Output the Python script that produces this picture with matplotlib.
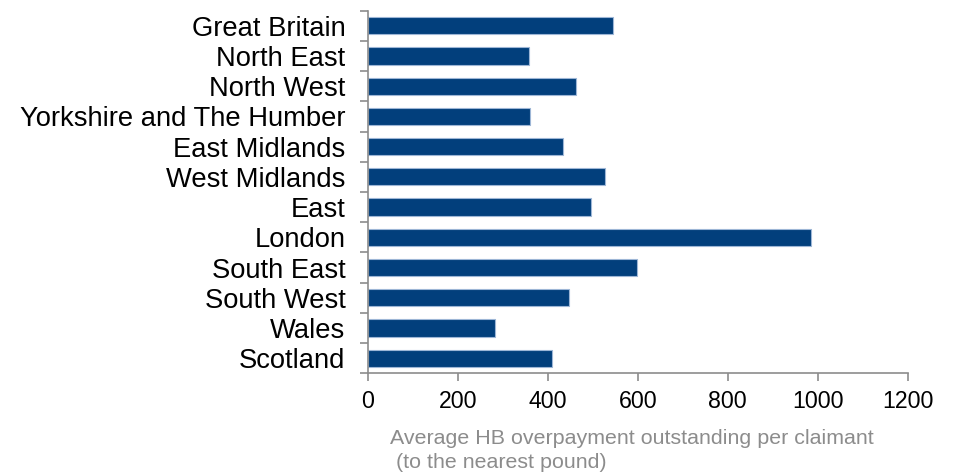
import matplotlib
matplotlib.use('Agg')
import matplotlib.pyplot as plt
import numpy as np

plt.rcParams['font.family'] = ['Liberation Sans', 'DejaVu Sans']

regioes = ['Great Britain', 'North East', 'North West', 'Yorkshire and The Humber',
           'East Midlands', 'West Midlands', 'East', 'London', 'South East',
           'South West', 'Wales', 'Scotland']
valores = [546, 358, 463, 361, 433, 527, 496, 986, 599, 448, 284, 409]
xticks = [0, 200, 400, 600, 800, 1000, 1200]

cinza = '#8c8c8c'
azul = '#023f7c'

fig = plt.figure(figsize=(9.55, 4.73), dpi=100)
ax = fig.add_axes([0.385, 0.2108, 0.5655, 0.7666])

pos = np.arange(len(regioes))
ax.barh(pos, valores, height=0.57, color=azul, edgecolor='#9db6d6', linewidth=0.8)

ax.set_ylim(len(regioes) - 0.5, -0.5)
ax.set_xlim(0, 1200)
ax.set_xticks(xticks)
ax.set_xticklabels([str(v) for v in xticks], fontsize=16.7)
ax.set_yticks(pos)
ax.set_yticklabels(regioes, fontsize=19.7)
ax.set_yticks(np.arange(-0.5, len(regioes), 1), minor=True)

ax.tick_params(axis='y', which='major', length=0, pad=16)
ax.tick_params(axis='y', which='minor', length=5.5, width=1.2, color=cinza)
ax.tick_params(axis='x', length=5.8, width=1.2, color=cinza, pad=6.5)

for lado in ['top', 'right']:
    ax.spines[lado].set_visible(False)
for lado in ['left', 'bottom']:
    ax.spines[lado].set_color(cinza)
    ax.spines[lado].set_linewidth(1.2)

fig.text(390 / 955, 1 - 429 / 473,
         'Average HB overpayment outstanding per claimant\n (to the nearest pound)',
         fontsize=15.4, color=cinza, ha='left', va='top', linespacing=1.3)

plt.savefig('out.png', dpi=100)
